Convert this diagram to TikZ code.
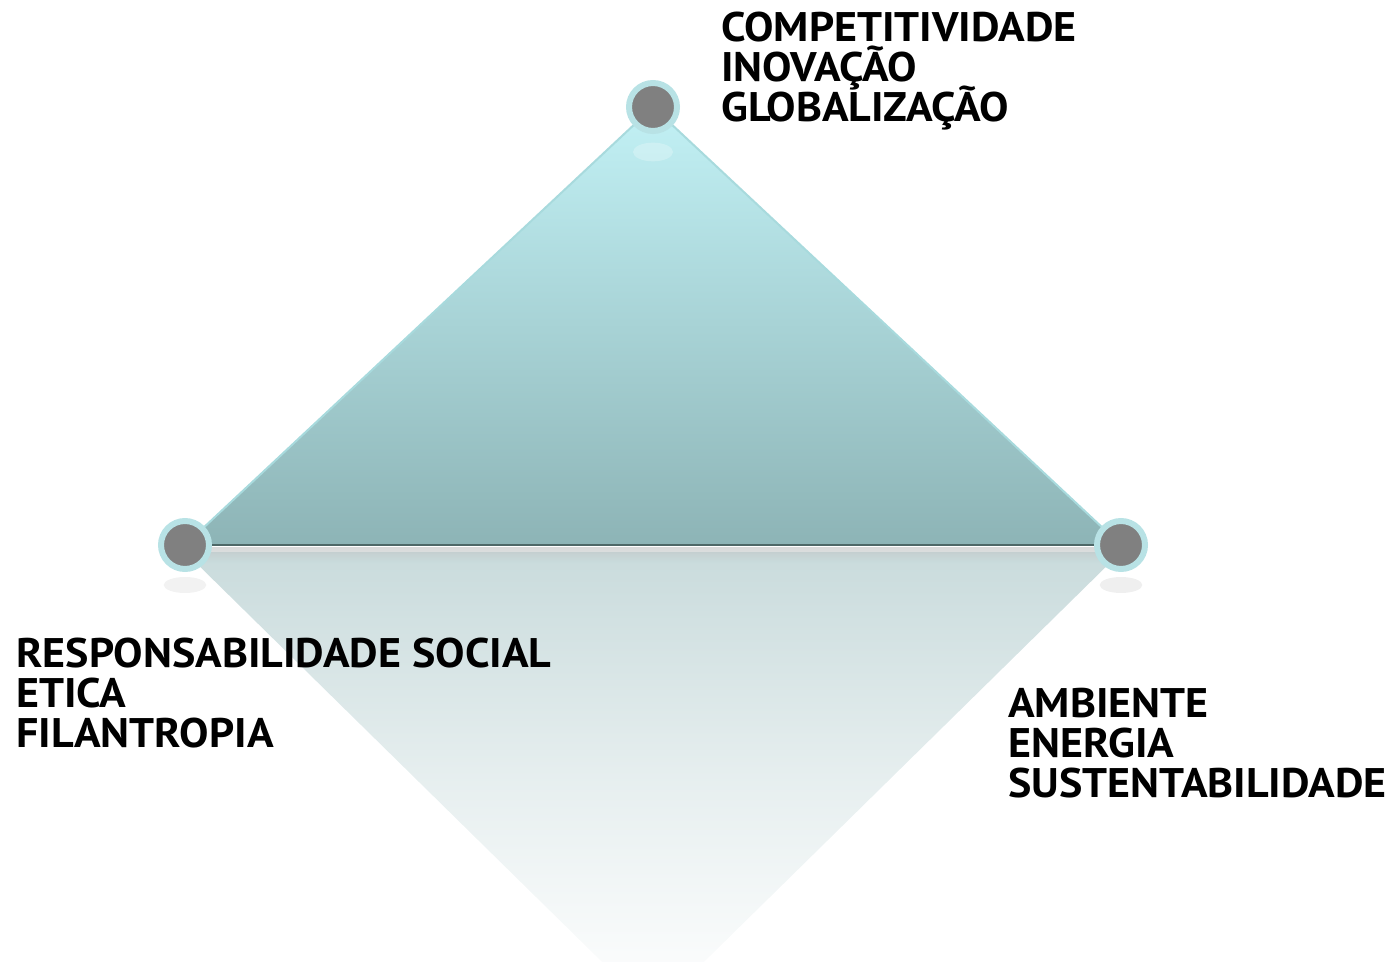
\documentclass[tikz,border=0pt]{standalone}
\usepackage{fontspec}
\setmainfont[FakeStretch=1.065]{PT Sans}
\definecolor{triTop}{HTML}{C2F1F5}
\definecolor{triBot}{HTML}{8DB4B6}
\definecolor{edgeC}{HTML}{A8DADD}
\definecolor{baseC}{HTML}{4E6867}
\definecolor{reflTop}{HTML}{C9DBDC}
\definecolor{ringC}{HTML}{B8E2E5}
\definecolor{dotC}{HTML}{808080}
\newcommand\mylblfont{\fontsize{31}{30}\selectfont\bfseries\lineskiplimit=-100pt\relax\lineskip=0pt\relax}
\tikzset{
  dot/.style={circle, fill=dotC, draw=ringC, line width=4.5pt, minimum size=36pt, inner sep=0pt},
  lbl/.style={anchor=north west, inner sep=0pt, align=left, text=black, font=\mylblfont},
}
\begin{document}
\begin{tikzpicture}[x=0.75pt,y=-0.75pt]
\useasboundingbox (0,0) rectangle (1391,962);
\coordinate (pA) at (653,107);
\coordinate (pB) at (185,545);
\coordinate (pC) at (1121,545);
% reflection
\begin{scope}
  \clip (0,0) rectangle (1391,962);
  \shade[top color=reflTop, bottom color=white, middle color=reflTop!45] (185,552) -- (1121,552) -- (653,1012) -- cycle;
  \shade[top color=black!25, bottom color=reflTop, opacity=0.6] (200,547) rectangle (1106,562);
  \fill[black!12, opacity=0.5] (1121,585) ellipse (16pt and 6pt);
  \fill[black!10, opacity=0.5] (185,585) ellipse (16pt and 6pt);
\end{scope}
% triangle
\shade[top color=triTop, bottom color=triBot] (pA) -- (pC) -- (pB) -- cycle;
\fill[white, opacity=0.25] (653,152) ellipse (15pt and 7pt);
\draw[edgeC, line width=1.5pt, line join=round] (pB) -- (pA) -- (pC);
\draw[baseC, line width=2.2pt] (pB) -- (pC);
% circles
\node[dot] (top) at (pA) {};
\node[dot] (left) at (pB) {};
\node[dot] (right) at (pC) {};
% labels
\node[lbl] (ltop) at (721,12) {COMPETITIVIDADE\\INOVAÇÃO\\GLOBALIZAÇÃO};
\node[lbl] (lleft) at (16,638) {RESPONSABILIDADE SOCIAL\\ETICA\\FILANTROPIA};
\node[lbl] (lright) at (1008,688) {AMBIENTE\\ENERGIA\\SUSTENTABILIDADE};
\end{tikzpicture}
\end{document}
